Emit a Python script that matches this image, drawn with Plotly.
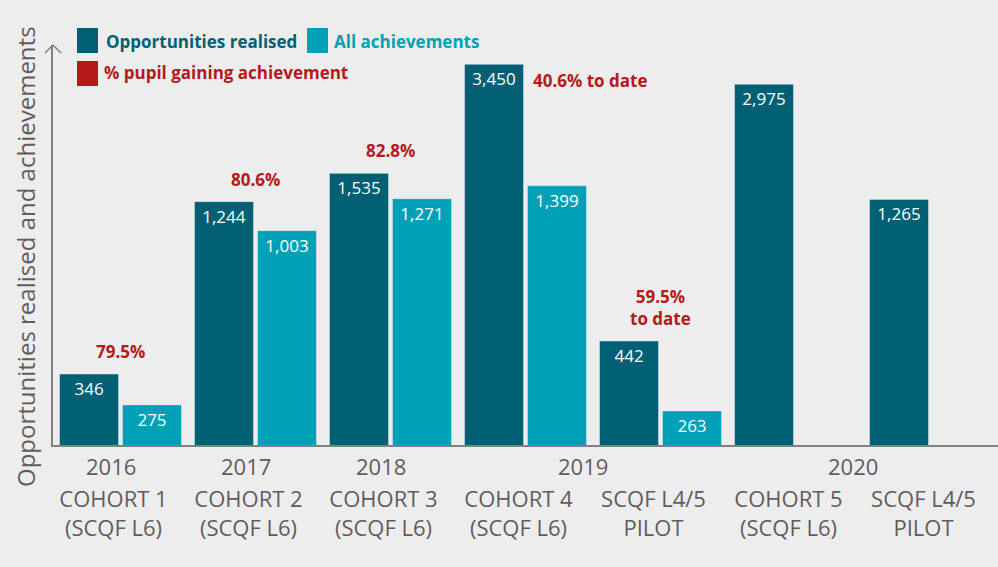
import math
import plotly.graph_objects as go

# ---- data ----
group_ids = ["C1", "C2", "C3", "C4", "P19", "C5", "P20"]
group_labels = ["COHORT 1<br>(SCQF L6)", "COHORT 2<br>(SCQF L6)", "COHORT 3<br>(SCQF L6)",
                "COHORT 4<br>(SCQF L6)", "SCQF L4/5<br>PILOT", "COHORT 5<br>(SCQF L6)",
                "SCQF L4/5<br>PILOT"]
opportunities = [346, 1244, 1535, 3450, 442, 2975, 1265]
achievements = [275, 1003, 1271, 1399, 263, None, None]
pct_labels = ["79.5%", "80.6%", "82.8%", "40.6% to date", "59.5%<br>to date", None, None]
years = ["2016", "2017", "2018", "2019", "2020"]
year_anchor = [0, 1, 2, 3.5, 5.5]

DARK = "#005f73"
LIGHT = "#00a0b7"
RED = "#b5191c"
GREY = "#615c5c"
AXIS = "#808080"
BG = "#ededed"
FONT = "Open Sans"

fig = go.Figure()
fig.add_trace(go.Bar(
    x=group_ids, y=opportunities, name="Opportunities realised", marker_color=DARK,
    text=[f"{v:,}" for v in opportunities], textposition="inside", insidetextanchor="end",
    textfont=dict(color="white", size=17, family=FONT), showlegend=False,
))
fig.add_trace(go.Bar(
    x=group_ids, y=achievements, name="All achievements", marker_color=LIGHT,
    text=[f"{v:,}" if v is not None else "" for v in achievements], textposition="inside",
    insidetextanchor="end", textfont=dict(color="white", size=17, family=FONT), showlegend=False,
))

annotations = []
# percentage labels
for i, lab in enumerate(pct_labels):
    if lab is None:
        continue
    vals = [v for v in (opportunities[i], achievements[i]) if v is not None]
    top = math.log10(max(vals))
    if "to date" in lab and "<br>" not in lab:
        annotations.append(dict(x=i, y=top, xref="x", yref="y", text=lab, showarrow=False,
                                xanchor="left", yanchor="middle", xshift=5, yshift=-16,
                                font=dict(color=RED, size=17, family=FONT, weight=700)))
    else:
        annotations.append(dict(x=i, y=top, xref="x", yref="y", text=lab, showarrow=False,
                                xanchor="center", yanchor="bottom", yshift=9,
                                font=dict(color=RED, size=17, family=FONT, weight=700)))
# years
for yr, pos in zip(years, year_anchor):
    annotations.append(dict(x=pos, y=0, xref="x", yref="paper", text=yr, showarrow=False,
                            xanchor="center", yanchor="middle", yshift=-21, xshift=-10,
                            font=dict(color=GREY, size=22, family=FONT)))
# y axis title
annotations.append(dict(x=-0.0296, y=0.47, xref="paper", yref="paper",
                        text="Opportunities realised and achievements", textangle=-90,
                        showarrow=False, xanchor="center", yanchor="middle",
                        font=dict(color=GREY, size=24, family=FONT)))
# legend texts
leg = [("Opportunities realised", DARK, 0.054, 1.01),
       ("All achievements", LIGHT, 0.295, 1.01),
       ("% pupil gaining achievement", RED, 0.052, 0.9325)]
for txt, col, lx, ly in leg:
    annotations.append(dict(x=lx, y=ly, xref="paper", yref="paper", text=txt, showarrow=False,
                            xanchor="left", yanchor="middle",
                            font=dict(color=col, size=17, family=FONT, weight=700)))

shapes = [
    dict(type="rect", xref="paper", yref="paper", x0=0.0254, x1=0.0476, y0=0.98, y1=1.0425,
         fillcolor=DARK, line_width=0),
    dict(type="rect", xref="paper", yref="paper", x0=0.2688, x1=0.291, y0=0.98, y1=1.0425,
         fillcolor=LIGHT, line_width=0),
    dict(type="rect", xref="paper", yref="paper", x0=0.0254, x1=0.0476, y0=0.8975, y1=0.96,
         fillcolor=RED, line_width=0),
    # arrow head on y axis
    dict(type="line", xref="paper", yref="paper", xsizemode="pixel", ysizemode="pixel",
         xanchor=0, yanchor=1, x0=-8, y0=-8, x1=0, y1=0, line=dict(color=AXIS, width=1.5)),
    dict(type="line", xref="paper", yref="paper", xsizemode="pixel", ysizemode="pixel",
         xanchor=0, yanchor=1, x0=8, y0=-8, x1=0, y1=0, line=dict(color=AXIS, width=1.5)),
]

fig.update_layout(
    width=998, height=567,
    margin=dict(l=53, r=0, t=45, b=122),
    paper_bgcolor=BG, plot_bgcolor=BG,
    barmode="group", bargap=0.067, bargroupgap=0.063,
    font=dict(family=FONT, color=GREY),
    uniformtext=dict(minsize=17, mode="show"),
    annotations=annotations, shapes=shapes,
    xaxis=dict(type="category", tickvals=group_ids, ticktext=group_labels,
               showline=True, linecolor=AXIS, linewidth=1.5, ticks="", showgrid=False,
               tickfont=dict(size=22, color=GREY, family=FONT), ticklabelstandoff=34,
               ticklabelshift=-7, range=[-0.5, 6.5]),
    yaxis=dict(type="log", range=[2.31, 3.60], showline=True, linecolor=AXIS, linewidth=1.5,
               showgrid=False, zeroline=False, showticklabels=False, ticks=""),
)

fig.write_html("out.html", config={"displayModeBar": False},
               post_script="document.body.style.margin='0';")
